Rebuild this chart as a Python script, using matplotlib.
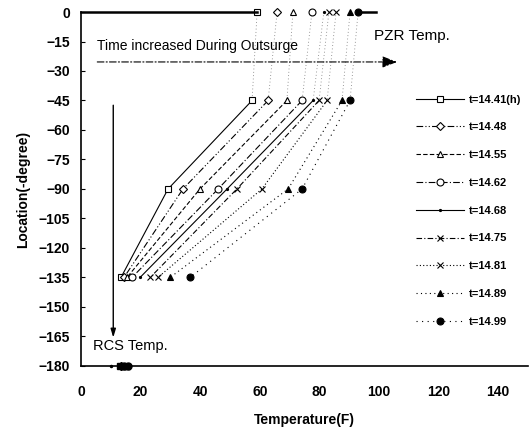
import numpy as np
import matplotlib.pyplot as plt

# Location (-degree) of each measurement point
location = [0, -45, -90, -135, -180]

# temperature (F) at each location, one list per time step
t_labels = ["t=14.41(h)", "t=14.48", "t=14.55", "t=14.62", "t=14.68",
            "t=14.75", "t=14.81", "t=14.89", "t=14.99"]
temps = [
    [59.1, 57.4, 29.2, 13.4, 13.0],
    [65.8, 62.8, 34.2, 14.4, 13.5],
    [71.1, 69.1, 39.9, 15.4, 14.0],
    [77.5, 74.2, 46.0, 17.1, 14.3],
    [81.5, 77.9, 49.0, 19.8, 10.0],
    [83.2, 79.9, 52.3, 23.2, 14.6],
    [85.6, 82.6, 60.7, 25.8, 15.0],
    [90.3, 87.6, 69.5, 29.9, 15.3],
    [93.0, 90.3, 74.2, 36.6, 15.8],
]

markers = ["s", "D", "^", "o", ".", "x", "x", "^", "o"]
filled = [False, False, False, False, True, True, True, True, True]
msizes = [5, 4, 5, 5, 3, 5, 5, 5, 5]
styles = ["-", (0, (6, 2, 1, 2, 1, 2)), (0, (4, 2)), (0, (6, 2, 1, 2)), "-",
          (0, (5, 2, 1, 2)), (0, (1, 2)), (0, (1, 3)), (0, (1, 4))]

plt.rcParams['font.family'] = ['Liberation Sans', 'DejaVu Sans']

fig = plt.figure(figsize=(5.30, 4.29), dpi=100)
ax = fig.add_axes([0.153, 0.147, 0.843, 0.825])

for i in range(len(temps)):
    mfc = "black" if filled[i] else "white"
    # faint link from the top row to -45
    ax.plot(temps[i][:2], location[:2], linestyle=(0, (1, 3)), color="#777777",
            linewidth=0.6, clip_on=False)
    # profile from -45 down to -135
    ax.plot(temps[i][1:4], location[1:4], linestyle=styles[i], color="black",
            linewidth=0.8, clip_on=False)
    # markers (0 .. -135), also used for the legend entry
    ax.plot(temps[i][:4], location[:4], linestyle="none", marker=markers[i],
            markersize=msizes[i], markerfacecolor=mfc, markeredgecolor="black",
            markeredgewidth=0.8, clip_on=False)
    ax.plot([], [], linestyle=styles[i], color="black", linewidth=0.8,
            marker=markers[i], markersize=msizes[i], markerfacecolor=mfc,
            markeredgecolor="black", markeredgewidth=0.8, label=t_labels[i])
    # RCS point at -180
    ax.plot(temps[i][4], location[4], linestyle="none", marker=markers[i],
            markersize=msizes[i], markerfacecolor="black",
            markeredgecolor="black", clip_on=False)

# thick line along the top row
ax.plot([0, temps[0][0]], [0, 0], color="black", linewidth=1.8, clip_on=False)
ax.plot([temps[-1][0], temps[-1][0] + 6], [0, 0], color="black", linewidth=1.8, clip_on=False)

# PZR arrow
ax.annotate("", xy=(107, -25.4), xytext=(4.5, -25.4),
            arrowprops=dict(arrowstyle="-|>,head_length=0.9,head_width=0.35",
                            color="black", linestyle=(0, (6, 2, 1, 2)), lw=0.8))
ax.text(5.5, -19.5, "Time increased During Outsurge", fontsize=10, ha="left", va="baseline")
ax.text(98.5, -14, "PZR Temp.", fontsize=11, ha="left", va="baseline")

# RCS arrow
ax.annotate("", xy=(10.8, -167), xytext=(10.8, -46),
            arrowprops=dict(arrowstyle="-|>,head_length=0.5,head_width=0.15",
                            color="black", lw=1.0))
ax.text(4, -172, "RCS Temp.", fontsize=10.5, ha="left", va="baseline")

ax.set_xlim(0, 150)
ax.set_ylim(-180, 0)
ax.set_xticks(np.arange(0, 141, 20))
ax.set_yticks(np.arange(0, -181, -15))
ax.tick_params(axis="both", labelsize=10, direction="in")
ax.tick_params(axis="x", length=0, pad=14)
ax.tick_params(axis="y", length=3, pad=8)
for lab in ax.get_xticklabels() + ax.get_yticklabels():
    lab.set_fontweight("bold")

ax.spines["top"].set_visible(False)
ax.spines["right"].set_visible(False)
ax.spines["left"].set_linewidth(1.2)
ax.spines["bottom"].set_linewidth(1.2)

ax.set_xlabel("Temperature(F)", fontsize=10, fontweight="bold", labelpad=10)
ax.set_ylabel("Location(-degree)", fontsize=10, fontweight="bold", labelpad=6)

ax.legend(loc="upper left", bbox_to_anchor=(0.728, 0.795), frameon=False,
          handlelength=4.3, labelspacing=1.6, handletextpad=0.4,
          borderpad=0.4, prop={"weight": "bold", "size": 8})

fig.savefig("out.png", dpi=100)
